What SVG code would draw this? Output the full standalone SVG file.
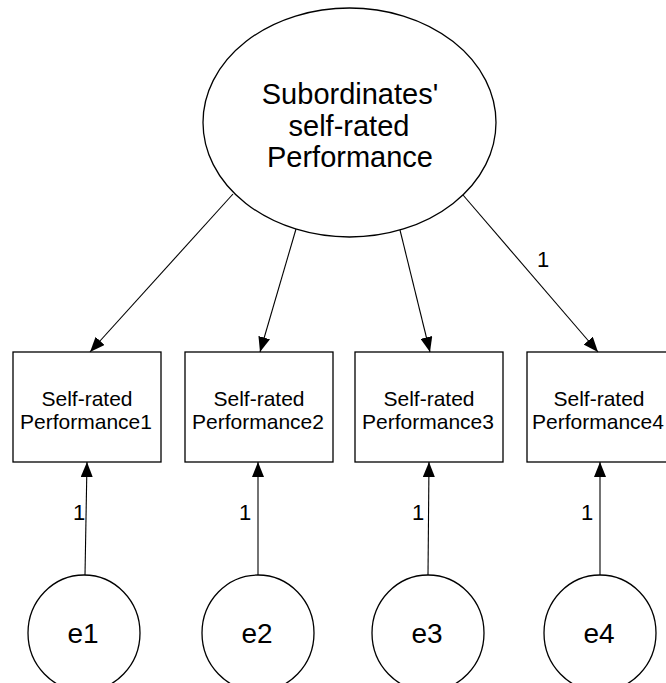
<svg xmlns="http://www.w3.org/2000/svg" width="666" height="683" viewBox="0 0 666 683">
  <style>
    .shape { fill: #ffffff; stroke: #000000; stroke-width: 1.3; }
    .edge { fill: none; stroke: #000000; stroke-width: 1.1; marker-end: url(#arrow); }
    text { font-family: "Liberation Sans", Arial, sans-serif; fill: #000000; text-anchor: middle; }
    .latent { font-size: 29px; }
    .obs { font-size: 21px; }
    .err { font-size: 28px; }
    .coef { font-size: 22px; }
  </style>
  <defs>
    <marker id="arrow" markerUnits="userSpaceOnUse" markerWidth="16" markerHeight="12" refX="15" refY="6" orient="auto">
      <path d="M0,0 L15,6 L0,12 Z" fill="#000000"/>
    </marker>
  </defs>
  <rect width="666" height="683" fill="#ffffff"/>

  <!-- latent factor -->
  <g id="latent">
    <ellipse class="shape" cx="349.5" cy="122.5" rx="146.5" ry="114.5"/>
    <text class="latent" x="350" y="104">Subordinates'</text>
    <text class="latent" x="349" y="136">self-rated</text>
    <text class="latent" x="350" y="167">Performance</text>
  </g>

  <!-- observed indicators -->
  <g id="obs1">
    <rect class="shape" x="13" y="352" width="148" height="110"/>
    <text class="obs" x="87" y="406">Self-rated</text>
    <text class="obs" x="86" y="429">Performance1</text>
  </g>
  <g id="obs2">
    <rect class="shape" x="185" y="352" width="148" height="110"/>
    <text class="obs" x="259" y="406">Self-rated</text>
    <text class="obs" x="258" y="429">Performance2</text>
  </g>
  <g id="obs3">
    <rect class="shape" x="355" y="352" width="148" height="110"/>
    <text class="obs" x="429" y="406">Self-rated</text>
    <text class="obs" x="428" y="429">Performance3</text>
  </g>
  <g id="obs4">
    <rect class="shape" x="527" y="352" width="148" height="110"/>
    <text class="obs" x="599" y="406">Self-rated</text>
    <text class="obs" x="598" y="429">Performance4</text>
  </g>

  <!-- error terms -->
  <g id="e1">
    <ellipse class="shape" cx="84" cy="633" rx="56" ry="58"/>
    <text class="err" x="83" y="643">e1</text>
  </g>
  <g id="e2">
    <ellipse class="shape" cx="258" cy="633" rx="56" ry="58"/>
    <text class="err" x="257" y="643">e2</text>
  </g>
  <g id="e3">
    <ellipse class="shape" cx="428" cy="633" rx="56" ry="58"/>
    <text class="err" x="427" y="643">e3</text>
  </g>
  <g id="e4">
    <ellipse class="shape" cx="600" cy="633" rx="56" ry="58"/>
    <text class="err" x="599" y="643">e4</text>
  </g>

  <!-- paths -->
  <g id="connectors">
    <line class="edge" x1="233" y1="194" x2="90" y2="352"/>
    <line class="edge" x1="296" y1="229" x2="260" y2="352"/>
    <line class="edge" x1="400" y1="230" x2="430" y2="352"/>
    <line class="edge" x1="463" y1="195" x2="598" y2="352"/>
    <line class="edge" x1="85" y1="575" x2="87" y2="462"/>
    <line class="edge" x1="258" y1="575" x2="258" y2="462"/>
    <line class="edge" x1="428" y1="575" x2="429" y2="462"/>
    <line class="edge" x1="600" y1="575" x2="600" y2="462"/>
    <text class="coef" x="543" y="267">1</text>
    <text class="coef" x="79" y="520">1</text>
    <text class="coef" x="245" y="520">1</text>
    <text class="coef" x="418" y="520">1</text>
    <text class="coef" x="587" y="520">1</text>
  </g>
</svg>
